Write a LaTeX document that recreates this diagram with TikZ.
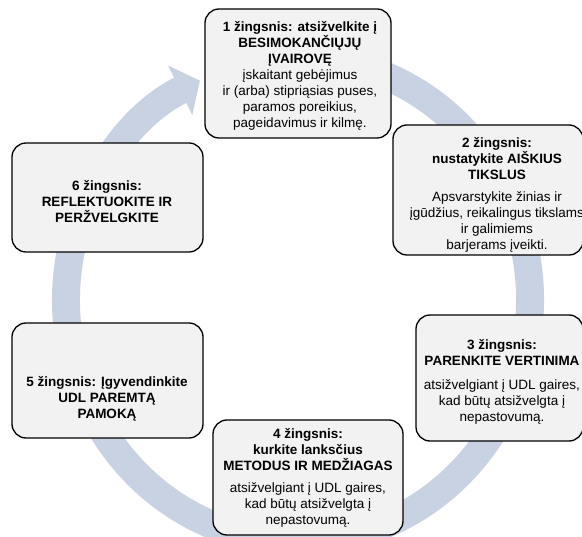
\documentclass[tikz,border=0pt]{standalone}
\usepackage{fontspec}
\setmainfont{Liberation Sans}
\usepackage{tikz}
\usetikzlibrary{arrows.meta}
\definecolor{ringblue}{RGB}{201,210,227}
\definecolor{boxgray}{RGB}{242,242,242}
\tikzset{
  stepbox/.style={draw=black, line width=1.3pt, fill=boxgray, rounded corners=14pt, inner sep=0pt},
  steptext/.style={align=center, inner sep=0pt, font=\fontsize{13.5}{16}\selectfont},
}

\begin{document}
\begin{tikzpicture}[x=1pt, y=-1pt]
	\useasboundingbox (0,0) rectangle (582,537);
	\coordinate (ringstart) at ({298+232*cos(-80)},{300+242*sin(-80)});
	\draw[ringblue, line width=28pt, -{Triangle[width=54pt,length=22pt]}] (ringstart) arc[start angle=-80, end angle=245, x radius=232, y radius=242];
	\node[stepbox, minimum width=186, minimum height=129] (box1) at (298,73.5) {};
	\node[steptext] (txt1) at (300,75.5) {\textbf{1 žingsnis: atsižvelkite į}\\ \textbf{BESIMOKANČIŲJŲ}\\ \textbf{ĮVAIROVĘ}\\ įskaitant gebėjimus\\ ir (arba) stipriąsias puses,\\ paramos poreikius,\\ pageidavimus ir kilmę.};
	\node[stepbox, minimum width=190, minimum height=130] (box2) at (488,190) {};
	\node[steptext] (txt2) at (497,195) {\textbf{2 žingsnis:}\\ \textbf{nustatykite AIŠKIUS}\\ \textbf{TIKSLUS}\\[6pt] Apsvarstykite žinias ir\\ įgūdžius, reikalingus tikslams\\ ir galimiems\\ barjerams įveikti.};
	\node[stepbox, minimum width=167, minimum height=126] (box3) at (499.5,378) {};
	\node[steptext] (txt3) at (502,382) {\textbf{3 žingsnis:}\\ \textbf{PARENKITE VERTINIMA}\\[8pt] atsižvelgiant į UDL gaires,\\ kad būtų atsižvelgta į\\ nepastovumą.};
	\node[stepbox, minimum width=190, minimum height=115] (box4) at (308,477.5) {};
	\node[steptext] (txt4) at (308,478) {\textbf{4 žingsnis:}\\ \textbf{kurkite lanksčius}\\ \textbf{METODUS IR MEDŽIAGAS}\\[6pt] atsižvelgiant į UDL gaires,\\ kad būtų atsižvelgta į\\ nepastovumą.};
	\node[stepbox, minimum width=191, minimum height=115] (box5) at (107.5,380.5) {};
	\node[steptext] (txt5) at (107,399) {\textbf{5 žingsnis: Įgyvendinkite}\\ \textbf{UDL PAREMTĄ}\\ \textbf{PAMOKĄ}};
	\node[stepbox, minimum width=191, minimum height=109] (box6) at (107.5,197.5) {};
	\node[steptext] (txt6) at (107,201.5) {\textbf{6 žingsnis:}\\ \textbf{REFLEKTUOKITE IR}\\ \textbf{PERŽVELGKITE}};
\end{tikzpicture}
\end{document}
